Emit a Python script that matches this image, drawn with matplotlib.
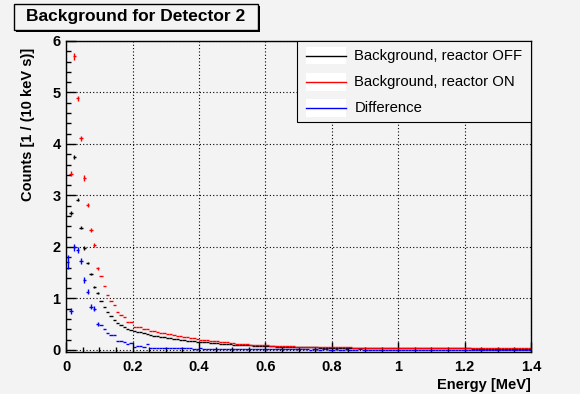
import numpy as np
import matplotlib
matplotlib.use('Agg')
import matplotlib.pyplot as plt
from matplotlib.patches import Rectangle
from matplotlib.lines import Line2D
from matplotlib.ticker import MultipleLocator

plt.rcParams['font.family'] = ['Liberation Sans', 'DejaVu Sans']

# Data: 10 keV bins from 0 to 1.4 MeV
bin_width = 0.01
nan = np.nan

bkg_off = [
    nan, 2.66, 3.74, 2.92, 2.37, 1.98, 1.68, 1.47, 1.22, 1.10,
    0.95, 0.84, 0.74, 0.65, 0.58, 0.53, 0.48, 0.44, 0.41, 0.38,
    0.37, 0.35, 0.34, 0.32, 0.30, 0.29, 0.28, 0.27, 0.26, 0.245,
    0.235, 0.225, 0.215, 0.205, 0.195, 0.19, 0.18, 0.175, 0.165, 0.16,
    0.155, 0.15, 0.145, 0.14, 0.135, 0.13, 0.125, 0.12, 0.115, 0.11,
    0.105, 0.10, 0.098, 0.094, 0.09, 0.087, 0.084, 0.08, 0.078, 0.075,
    0.072, 0.07, 0.068, 0.066, 0.064, 0.062, 0.06, 0.058, 0.057, 0.055,
    0.054, 0.052, 0.051, 0.05, 0.049, 0.048, 0.047, 0.046, 0.045, 0.044,
    0.044, 0.043, 0.042, 0.042, 0.041, 0.04, 0.04, 0.039, 0.039, 0.038,
    0.038, 0.037, 0.037, 0.036, 0.036, 0.036, 0.035, 0.035, 0.034, 0.034,
    0.034, 0.033, 0.033, 0.033, 0.032, 0.032, 0.032, 0.031, 0.031, 0.031,
    0.03, 0.03, 0.03, 0.03, 0.029, 0.029, 0.029, 0.029, 0.028, 0.028,
    0.028, 0.028, 0.027, 0.027, 0.027, 0.027, 0.026, 0.026, 0.026, 0.026,
    0.026, 0.025, 0.025, 0.025, 0.025, 0.025, 0.024, 0.024, 0.024, 0.024,
]

bkg_on = [
    nan, 3.42, 5.70, 4.89, 4.11, 3.34, 2.82, 2.33, 2.03, 1.59,
    1.43, 1.24, 1.07, 0.95, 0.88, 0.74, 0.67, 0.63, 0.54, 0.54,
    0.45, 0.45, 0.44, 0.40, 0.41, 0.36, 0.37, 0.34, 0.33, 0.32,
    0.31, 0.30, 0.29, 0.28, 0.27, 0.26, 0.25, 0.24, 0.23, 0.215,
    0.20, 0.195, 0.19, 0.18, 0.17, 0.165, 0.16, 0.15, 0.145, 0.14,
    0.13, 0.125, 0.12, 0.115, 0.11, 0.105, 0.10, 0.097, 0.095, 0.09,
    0.087, 0.085, 0.082, 0.08, 0.077, 0.075, 0.072, 0.07, 0.068, 0.066,
    0.065, 0.063, 0.061, 0.06, 0.058, 0.057, 0.056, 0.055, 0.053, 0.052,
    0.051, 0.05, 0.05, 0.049, 0.048, 0.048, 0.047, 0.046, 0.046, 0.045,
    0.045, 0.044, 0.044, 0.043, 0.043, 0.042, 0.042, 0.041, 0.041, 0.041,
    0.04, 0.04, 0.04, 0.039, 0.039, 0.039, 0.038, 0.038, 0.038, 0.037,
    0.037, 0.037, 0.036, 0.036, 0.036, 0.035, 0.035, 0.035, 0.035, 0.034,
    0.034, 0.034, 0.034, 0.033, 0.033, 0.033, 0.033, 0.032, 0.032, 0.032,
    0.032, 0.031, 0.031, 0.031, 0.031, 0.03, 0.03, 0.03, 0.03, 0.03,
]

difference = [
    1.71, 0.76, 1.99, 1.94, 1.72, 1.36, 1.13, 0.84, 0.80, 0.50,
    0.48, 0.40, 0.32, 0.29, 0.29, 0.17, 0.17, 0.16, 0.11, 0.13,
    0.05, 0.07, 0.08, 0.06, 0.11, 0.04, 0.03, 0.04, 0.035, 0.04,
    0.03, 0.035, 0.03, 0.04, 0.035, 0.03, 0.035, 0.03, 0.025, 0.02,
    0.03, 0.02, 0.025, 0.02, 0.02, 0.025, 0.02, 0.018, 0.022, 0.02,
    0.018, 0.02, 0.015, 0.02, 0.018, 0.015, 0.02, 0.012, 0.015, 0.02,
    0.012, 0.014, 0.01, 0.015, 0.012, 0.01, 0.014, 0.012, 0.01, 0.012,
    0.01, 0.012, 0.01, 0.008, 0.012, 0.01, 0.008, 0.01, 0.012, 0.008,
    0.008, 0.01, 0.006, 0.008, 0.01, 0.006, 0.008, 0.006, 0.01, 0.008,
    0.006, 0.008, 0.005, 0.008, 0.006, 0.005, 0.008, 0.006, 0.005, 0.007,
    0.006, 0.005, 0.008, 0.006, 0.005, 0.006, 0.004, 0.006, 0.007, 0.005,
    0.006, 0.004, 0.006, 0.005, 0.007, 0.005, 0.004, 0.006, 0.005, 0.004,
    0.006, 0.005, 0.007, 0.005, 0.004, 0.006, 0.005, 0.004, 0.006, 0.005,
    0.005, 0.004, 0.006, 0.005, 0.004, 0.006, 0.005, 0.004, 0.006, 0.005,
]

# statistical errors of the first bins (tail errors are too small to see)
err_off = [0.0, 0.03, 0.04, 0.03, 0.03, 0.03, 0.02, 0.02, 0.02, 0.02]
err_on = [0.0, 0.05, 0.06, 0.05, 0.05, 0.05, 0.04, 0.04, 0.04, 0.03]
err_diff = [0.13, 0.06, 0.07, 0.06, 0.06, 0.06, 0.05, 0.05, 0.05, 0.04]

legend_labels = ['Background, reactor OFF', 'Background, reactor ON', 'Difference']
series_colors = ['black', '#ff0000', '#0000ff']

n_bins = len(difference)
energy = (np.arange(n_bins) + 0.5) * bin_width

bg = '#f3f3f3'
fig = plt.figure(figsize=(5.8, 3.94), dpi=100, facecolor=bg)
ax = fig.add_axes([0.114, 0.1066, 0.8015, 0.7894])
ax.set_facecolor(bg)

series = [bkg_off, bkg_on, difference]
errors = [err_off, err_on, err_diff]
for vals, err, col in zip(series, errors, series_colors):
    yerr = list(err) + [0.0] * (n_bins - len(err))
    ax.errorbar(energy, vals, xerr=bin_width / 2, yerr=yerr, fmt='none',
                ecolor=col, elinewidth=1.0, capsize=0)

ax.set_xlim(0, 1.4)
ax.set_ylim(-0.04, 6.0)
ax.xaxis.set_minor_locator(MultipleLocator(0.05))
ax.yaxis.set_major_locator(MultipleLocator(1))
ax.yaxis.set_minor_locator(MultipleLocator(0.2))
ax.set_xticks([0, 0.2, 0.4, 0.6, 0.8, 1.0, 1.2, 1.4])
ax.set_xticklabels(['0', '0.2', '0.4', '0.6', '0.8', '1', '1.2', '1.4'])
ax.tick_params(which='both', direction='in', top=False, right=False, width=1)
ax.tick_params(which='major', length=7)
ax.tick_params(which='minor', length=3.6)
ax.tick_params(axis='x', which='major', pad=6)
ax.tick_params(axis='y', which='major', pad=4)
for lab in ax.get_xticklabels() + ax.get_yticklabels():
    lab.set_fontweight('bold')
    lab.set_fontsize(10.5)
ax.grid(True, which='major', color='black', linestyle=(0, (1, 2)), linewidth=0.8)
for sp in ax.spines.values():
    sp.set_linewidth(1.0)

ax.set_xlabel('Energy [MeV]', fontsize=10.5, fontweight='bold', loc='right', labelpad=3)
ax.set_ylabel('Counts [1 / (10 keV s)]', fontsize=10.5, fontweight='bold', loc='top')
ax.yaxis.set_label_coords(-0.066, 0.978)

# legend box in the ROOT style
leg_x0, leg_y0 = 0.496, 0.738
ax.add_patch(Rectangle((leg_x0, leg_y0), 1.0 - leg_x0, 1.0 - leg_y0, transform=ax.transAxes,
                       facecolor=bg, edgecolor='black', linewidth=0.8, zorder=5))
entry_y = [0.953, 0.868, 0.784]
for yy, lab, col in zip(entry_y, legend_labels, series_colors):
    ax.add_patch(Rectangle((0.515, yy - 0.028), 0.088, 0.056, transform=ax.transAxes,
                           facecolor='white', edgecolor='none', zorder=6))
    ax.add_line(Line2D([0.515, 0.603], [yy, yy], transform=ax.transAxes,
                       color=col, linewidth=1.0, zorder=7))
    ax.text(0.62, yy, lab, transform=ax.transAxes, fontsize=10.7, va='center',
            ha='left', zorder=7)

# title box with a ROOT-like shadow
tx0, ty0, tw, th = 14 / 580, 1 - 30 / 394, 244 / 580, 26 / 394
fig.patches.append(Rectangle((tx0 + 2 / 580, ty0 - 2 / 394), tw, th, transform=fig.transFigure,
                             facecolor='black', edgecolor='none', zorder=1))
fig.patches.append(Rectangle((tx0, ty0), tw, th, transform=fig.transFigure,
                             facecolor=bg, edgecolor='black', linewidth=1.0, zorder=2))
fig.text(tx0 + tw / 2, ty0 + th / 2, 'Background for Detector 2', fontsize=12.5,
         fontweight='bold', ha='center', va='center', zorder=3)

fig.savefig('out.png', dpi=100, facecolor=bg)
